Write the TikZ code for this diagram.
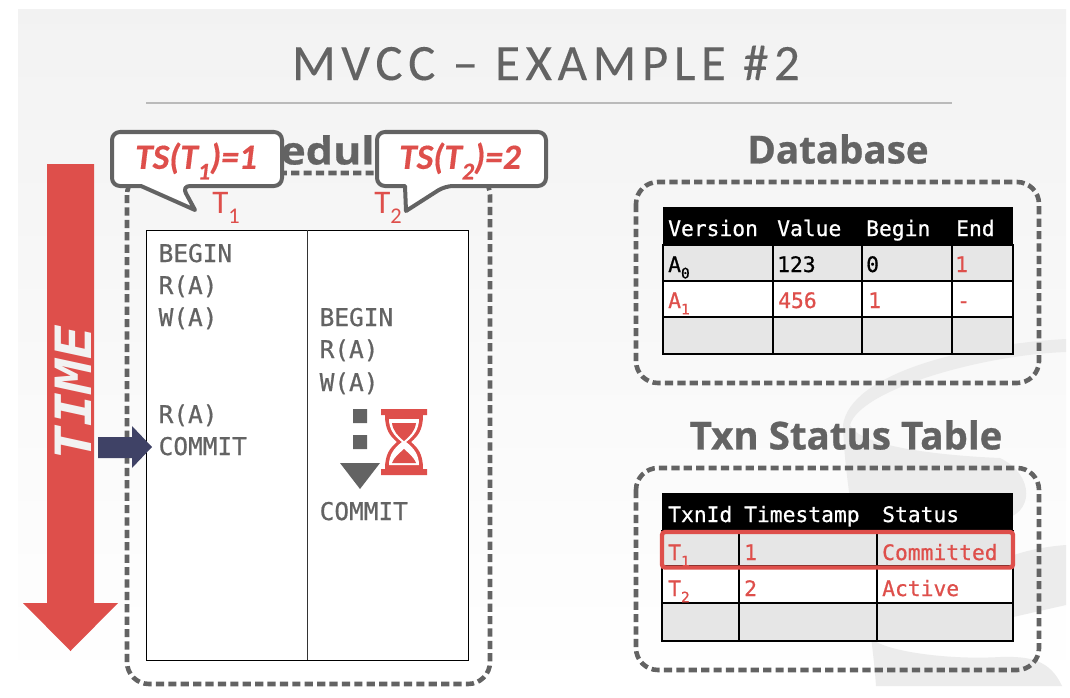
\documentclass[tikz,border=0pt]{standalone}
\usepackage{fontspec}
\usepackage{xcolor}
\usetikzlibrary{arrows.meta,calc,positioning}
\setmainfont[BoldItalicFeatures={FakeBold=0.4}]{Carlito}
\newfontfamily\titlefont[LetterSpace=11,FakeBold=0.2]{Carlito}
\newfontfamily\headfont[BoldFeatures={FakeBold=0.7}]{Open Sans}
\newfontfamily\tblfont[FakeBold=0.7]{DejaVu Sans Mono}
\newfontfamily\timefont{DejaVu Sans Mono}
\definecolor{slidered}{RGB}{222,79,75}
\definecolor{slidegray}{RGB}{99,99,99}
\definecolor{slidenavy}{RGB}{63,66,102}
\definecolor{cellgray}{RGB}{230,230,230}
\definecolor{logogray}{RGB}{236,236,236}
\newcommand{\lowidx}[1]{\raisebox{-0.3em}{\scalebox{0.68}{#1}}}
\tikzset{
  dashbox/.style={slidegray,line width=4.6pt,dash pattern=on 8.2pt off 4.2pt,rounded corners=22pt},
  callout/.style={slidegray,fill=white,line width=4pt,line join=round},
  headline/.style={slidegray,inner sep=0pt,font=\fontsize{38.5}{42}\selectfont\headfont\bfseries},
  opstext/.style={slidegray,anchor=base west,inner sep=0pt,font=\fontsize{24.4}{28}\selectfont\tblfont},
  celltext/.style={anchor=base west,inner sep=0pt,font=\fontsize{21.3}{24}\selectfont\tblfont},
  tstext/.style={slidered,inner sep=0pt,font=\fontsize{35.5}{40}\selectfont\bfseries\itshape},
  txnlabel/.style={slidered,inner sep=0pt,font=\fontsize{33}{36}\selectfont},
}
\begin{document}
\begin{tikzpicture}[x=1pt,y=-1pt]
  \useasboundingbox (0,0) rectangle (1070,698);
  % slide background + logo
  \shade[top color=black!5,bottom color=white] (18,10) rectangle (1066,686);
  \fill[logogray] (1066,339) .. controls (960,345) and (850,375) .. (843,425)
    .. controls (845,500) and (870,600) .. (876,686) -- (1062,686)
    .. controls (1050,660) and (1030,656) .. (1000,657)
    .. controls (950,660) and (890,652) .. (873,640) -- (1000,620) -- (1066,605)
    -- (1066,545) .. controls (1040,547) and (1020,552) .. (1000,560) -- (1000,520)
    .. controls (1035,515) and (1035,475) .. (1000,458)
    .. controls (950,456) and (860,448) .. (850,425)
    .. controls (860,390) and (980,355) .. (1066,352) -- cycle;
  % title
  \node[slidegray,inner sep=0pt,font=\fontsize{51}{56}\selectfont\titlefont] (title) at (546,63) {MVCC – EXAMPLE \#2};
  \draw[black!27,line width=2.6pt] (146,103) -- (952,103);
  % schedule panel
  \node[headline,xscale=1.12] (schedhead) at (303,150) {Schedule};
  \draw[dashbox] (127,173) rectangle (490,684);
  \draw[fill=white,line width=1pt] (146,230) rectangle (468,660);
  \draw[line width=1pt,black!80] (307,230) -- (307,660);
  \foreach \name/\y/\op in {a/254/BEGIN,b/286/R(A),c/318/W(A),d/415/R(A),e/447/COMMIT}
    \node[opstext] (opl\name) at (158.5,\y+8) {\op};
  \foreach \name/\y/\op in {a/318/BEGIN,b/350/R(A),c/383/W(A),d/512/COMMIT}
    \node[opstext] (opr\name) at (319.5,\y+8) {\op};
  % waiting dots + hourglass
  \fill[slidegray] (353,409) rectangle (367,423) (353,435) rectangle (367,449);
  \fill[slidegray] (340,463) -- (380,463) -- (360,489) -- cycle;
  \fill[slidered] (381,409) rectangle (427,415) (381,469) rectangle (427,475);
  \fill[slidered] (385,415) -- (423,415) .. controls (423,430) and (418,436) .. (411,442)
    .. controls (418,448) and (423,454) .. (423,469)
    -- (385,469) .. controls (385,454) and (390,448) .. (397,442)
    .. controls (390,436) and (385,430) .. (385,415) -- cycle;
  \fill[white] (389,419) -- (419,419) .. controls (419,429) and (414,436) .. (406,442)
    .. controls (414,448) and (419,455) .. (419,465)
    -- (389,465) .. controls (389,455) and (394,448) .. (402,442)
    .. controls (394,436) and (389,429) .. (389,419) -- cycle;
  \fill[slidered] (392,423) -- (416,423) .. controls (415,431) and (410,436) .. (404,441)
    .. controls (398,436) and (393,431) .. (392,423) -- cycle;
  \fill[slidered] (392,463) .. controls (395,456) and (400,453) .. (404,449)
    .. controls (408,453) and (413,456) .. (416,463) -- cycle;
  % time arrow
  \fill[slidered] (47,164) -- (94,164) -- (94,603) -- (118,603) -- (70.5,651) -- (23,603) -- (47,603) -- cycle;
  \node[white!95!black,rotate=90,xscale=1.12,inner sep=0pt,font=\fontsize{50}{56}\selectfont\timefont\bfseries\itshape] (timelabel) at (73,393) {TIME};
  \fill[slidenavy] (98,437) -- (132,437) -- (132,426) -- (152,447) -- (132,468) -- (132,458) -- (98,458) -- cycle;
  % transaction labels
  \node[txnlabel] (labelone) at (226,208) {T\lowidx{1}};
  \node[txnlabel] (labeltwo) at (388,208) {T\lowidx{2}};
  % callouts
  \draw[callout] [rounded corners=8pt] (112,132) -- (282,132) -- (282,186) -- (182,186) [sharp corners] -- (195,210) -- (141,186) [rounded corners=8pt] -- (112,186) -- cycle;
  \draw[callout] [rounded corners=8pt] (377,132) -- (546,132) -- (546,186) -- (445,186) [sharp corners] -- (406,211) -- (405,186) [rounded corners=8pt] -- (377,186) -- cycle;
  \node[tstext] (tsone) at (196,161) {TS(T\lowidx{1})=1};
  \node[tstext] (tstwo) at (460,161) {TS(T\lowidx{2})=2};
  % database panel
  \node[headline] (dbhead) at (838,149) {Database};
  \draw[dashbox] (636,182) rectangle (1039,383);
  \fill[cellgray] (663,244) rectangle (1013,281) (663,317) rectangle (1013,354);
  \fill[white] (663,281) rectangle (1013,317);
  \fill[black] (663,207) rectangle (1013,245);
  \draw[line width=1.5pt] (663,245) rectangle (1013,354);
  \foreach \x in {773,862,952} \draw[line width=1.5pt] (\x,245) -- (\x,354);
  \foreach \y in {281,317} \draw[line width=1.5pt] (663,\y) -- (1013,\y);
  \foreach \name/\x/\txt in {ver/668/Version,val/777/Value,beg/866/Begin,end/956/End}
    \node[celltext,white] (db\name) at (\x,236) {\txt};
  \node[celltext] (dbaa) at (668,272) {A\lowidx{0}};
  \node[celltext] (dbab) at (777,272) {123};
  \node[celltext] (dbac) at (866,272) {0};
  \node[celltext,slidered] (dbad) at (955,272) {1};
  \node[celltext,slidered] (dbba) at (668,308) {A\lowidx{1}};
  \node[celltext,slidered] (dbbb) at (778,308) {456};
  \node[celltext,slidered] (dbbc) at (868,308) {1};
  \node[celltext,slidered] (dbbd) at (957,308) {-};
  % txn status panel
  \node[headline] (txnhead) at (846,435) {Txn Status Table};
  \draw[dashbox] (636,468) rectangle (1039,670);
  \fill[cellgray] (662,530) rectangle (1013,566) (662,603) rectangle (1013,641);
  \fill[white] (662,566) rectangle (1013,603);
  \fill[black] (662,493) rectangle (1013,531);
  \draw[line width=1.5pt] (662,531) rectangle (1013,641);
  \foreach \x in {739,877} \draw[line width=1.5pt] (\x,531) -- (\x,641);
  \foreach \y in {566,603} \draw[line width=1.5pt] (662,\y) -- (1013,\y);
  \foreach \name/\x/\txt in {id/668/TxnId,ts/744/Timestamp,st/882/Status}
    \node[celltext,white] (txn\name) at (\x,522) {\txt};
  \node[celltext,slidered] (txnaa) at (668,560) {T\lowidx{1}};
  \node[celltext,slidered] (txnab) at (744,560) {1};
  \node[celltext,slidered] (txnac) at (882,560) {Committed};
  \node[celltext,slidered] (txnba) at (668,596) {T\lowidx{2}};
  \node[celltext,slidered] (txnbb) at (744,596) {2};
  \node[celltext,slidered] (txnbc) at (882,596) {Active};
  \draw[slidered,line width=4.4pt,rounded corners=3pt] (662,532) rectangle (1013,567.5);
\end{tikzpicture}
\end{document}
